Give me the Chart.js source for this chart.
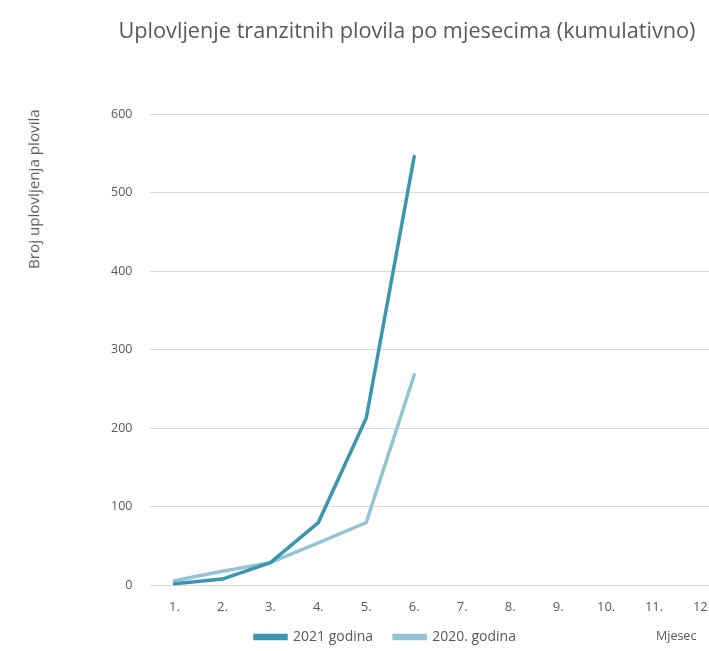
<!DOCTYPE html>
<html><head><meta charset="utf-8">
<script src="https://cdn.jsdelivr.net/npm/chart.js@4"></script>
<style>
html,body{margin:0;padding:0;background:#fff;overflow:hidden;width:709px;height:651px;}
#wrap{position:absolute;left:0;top:0;width:732px;height:651px;}
.lbl{position:absolute;font-family:"Open Sans",sans-serif;font-weight:400;color:#595959;white-space:nowrap;line-height:1;}
#title{left:407px;top:30px;font-size:21.7px;transform:translate(-50%,-50%);}
#ytitle{left:26px;top:108px;height:162px;font-size:15.2px;writing-mode:vertical-rl;transform:rotate(180deg);text-align:center;}
#xtitle{left:656px;top:630px;font-size:12.5px;}
</style></head>
<body>
<div id="wrap"><canvas id="c"></canvas></div>
<div class="lbl" id="title">Uplovljenje tranzitnih plovila po mjesecima (kumulativno)</div>
<div class="lbl" id="ytitle">Broj uplovljenja plovila</div>
<div class="lbl" id="xtitle">Mjesec</div>
<script>
const months = ['1.','2.','3.','4.','5.','6.','7.','8.','9.','10.','11.','12.'];
const series2021 = [2, 8, 29, 80, 213, 546, null, null, null, null, null, null];
const series2020 = [6, 18, 29, 54, 80, 268, null, null, null, null, null, null];
const yTicks = [0, 100, 200, 300, 400, 500, 600];

const c1 = '#3b97ae', c2 = '#93c4d5';
const legendPlace = {
  id: 'legendPlace',
  beforeInit(chart) {
    const lg = chart.legend;
    if (!lg || lg._patched) return;
    const fit = lg.fit;
    lg.fit = function () { fit.call(this); this._fullH = this.height; this.height -= 23; };
    lg._patched = true;
  },
  afterLayout(chart) {
    const lg = chart.legend;
    if (!lg) return;
    const w = lg.right - lg.left;
    const h = lg._fullH || lg.height;
    lg.top = chart.height - h + 3; lg.bottom = lg.top + h; lg.height = h;
    lg.left = 234; lg.right = 234 + w;
  }
};
new Chart(document.getElementById('c'), {
  type: 'line',
  data: {
    labels: months,
    datasets: [
      {label: '2021 godina', data: series2021, borderColor: c1, backgroundColor: c1, borderWidth: 3.5, pointRadius: 0, tension: 0, borderCapStyle: 'round'},
      {label: '2020. godina', data: series2020, borderColor: c2, backgroundColor: c2, borderWidth: 3.5, pointRadius: 0, tension: 0, borderCapStyle: 'round'}
    ]
  },
  plugins: [legendPlace],
  options: {
    responsive: true, maintainAspectRatio: false, animation: false, events: [],
    layout: {padding: {left: 93, right: 6, top: 114, bottom: 0}},
    plugins: {
      tooltip: {enabled: false},
      title: {display: false},
      legend: {position: 'bottom', align: 'start', labels: {color: '#595959', font: {family: 'Open Sans', size: 14}, boxWidth: 31, boxHeight: 3, padding: 21}}
    },
    scales: {
      x: {offset: true, grid: {display: false, drawTicks: false}, border: {display: false},
        ticks: {color: '#595959', font: {family: 'Open Sans', size: 13}, padding: 14}},
      y: {min: 0, max: 600, afterBuildTicks: ax => { ax.ticks = yTicks.map(v => ({value: v})); },
        grid: {color: '#d9d9d9', drawTicks: false}, border: {display: false},
        ticks: {color: '#595959', font: {family: 'Open Sans', size: 12.5}, padding: 18}}
    }
  }
});
</script>
</body></html>
